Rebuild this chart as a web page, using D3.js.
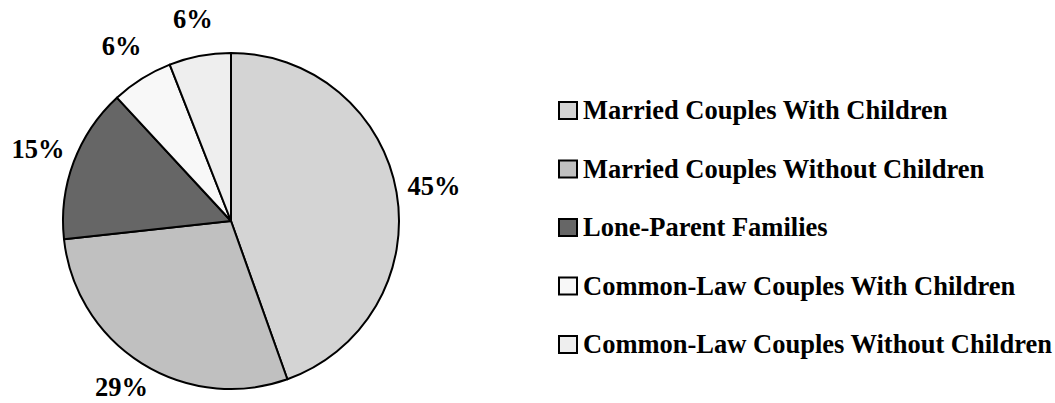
<!DOCTYPE html>
<html lang="en">
<head>
  <meta charset="UTF-8">
  <title>family types</title>
  <style>
    body { margin: 0; background: #fff; }
    svg { display: block; }
    text {
      font-family: "Liberation Serif", "Times New Roman", serif;
      font-weight: bold;
      font-size: 26.5px;
      fill: #000;
    }
  </style>
</head>
<body>
  <div id="chart"></div>
<script src="https://d3js.org/d3.v7.min.js"></script>
<script>
  // data
  const categories = [
    'Married Couples With Children',
    'Married Couples Without Children',
    'Lone-Parent Families',
    'Common-Law Couples With Children',
    'Common-Law Couples Without Children'
  ]
  const values = [45, 29, 15, 6, 6]
  const labels = ['45%', '29%', '15%', '6%', '6%']
  const colors = ['#d4d4d4', '#c0c0c0', '#666666', '#f8f8f8', '#eeeeee']

  const W = 1055, H = 403, fs = 26.5
  const cx = 231, cy = 221, r = 168, labelR = 206

  const svg = d3.select('#chart').append('svg')
    .attr('width', W)
    .attr('height', H)

  const pie = d3.pie().sort(null).value(d => d)
  const arcs = pie(values)
  const arc = d3.arc().innerRadius(0).outerRadius(r)

  const g = svg.append('g').attr('transform', `translate(${cx}, ${cy})`)

  // slices
  g.selectAll('path')
    .data(arcs)
    .enter()
    .append('path')
    .attr('d', arc)
    .attr('fill', (d, i) => colors[i])
    .attr('stroke', '#000')
    .attr('stroke-width', 2)
    .attr('stroke-linejoin', 'round')

  // percent labels outside, pushed up so they stay inside the picture
  const labelArc = d3.arc().innerRadius(labelR).outerRadius(labelR)
  const maxY = H - cy - 7 - 0.34 * fs
  g.selectAll('.lbl')
    .data(arcs)
    .enter()
    .append('text')
    .attr('class', 'lbl')
    .attr('x', d => labelArc.centroid(d)[0])
    .attr('y', d => Math.min(labelArc.centroid(d)[1], maxY))
    .attr('text-anchor', 'middle')
    .attr('dy', '0.34em')
    .text((d, i) => labels[i])

  // legend
  const legendX = 559, legendY0 = 119, rowH = 58.5
  const legend = svg.append('g')
  const rows = legend.selectAll('g')
    .data(categories)
    .enter()
    .append('g')
    .attr('transform', (d, i) => `translate(${legendX}, ${legendY0 + i * rowH})`)

  rows.append('rect')
    .attr('x', 0)
    .attr('y', -17)
    .attr('width', 18)
    .attr('height', 17)
    .attr('fill', (d, i) => colors[i])
    .attr('stroke', '#000')
    .attr('stroke-width', 2)

  rows.append('text')
    .attr('x', 24)
    .attr('y', 0)
    .text(d => d)
</script>
</body>
</html>
